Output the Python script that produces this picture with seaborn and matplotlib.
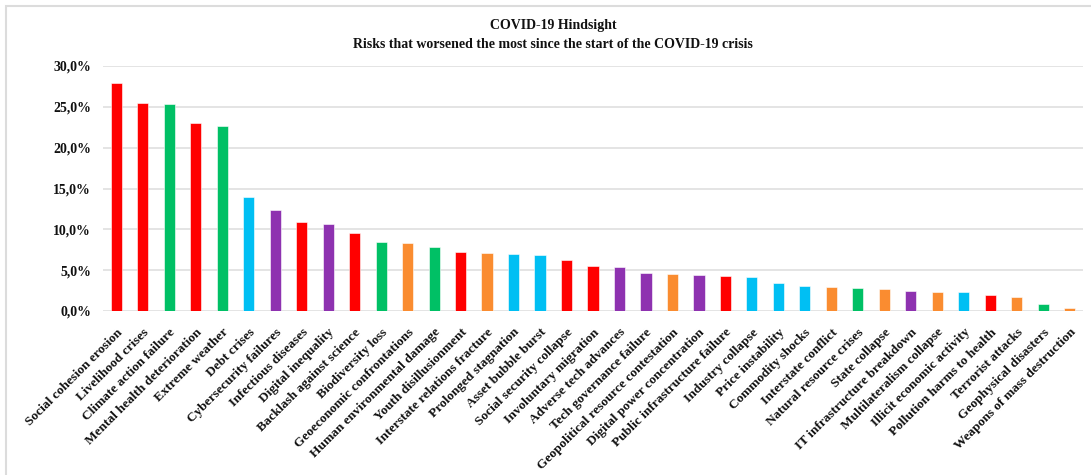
import matplotlib
matplotlib.use("Agg")
import matplotlib.pyplot as plt
from matplotlib.patches import Rectangle
from matplotlib.ticker import FuncFormatter, MultipleLocator
import seaborn as sns

risks = [
    "Social cohesion erosion", "Livelihood crises", "Climate action failure",
    "Mental health deterioration", "Extreme weather", "Debt crises",
    "Cybersecurity failures", "Infectious diseases", "Digital inequality",
    "Backlash against science", "Biodiversity loss", "Geoeconomic confrontations",
    "Human environmental damage", "Youth disillusionment",
    "Interstate relations fracture", "Prolonged stagnation", "Asset bubble burst",
    "Social security collapse", "Involuntary migration", "Adverse tech advances",
    "Tech governance failure", "Geopolitical resource contestation",
    "Digital power concentration", "Public infrastructure failure",
    "Industry collapse", "Price instability", "Commodity shocks",
    "Interstate conflict", "Natural resource crises", "State collapse",
    "IT infrastructure breakdown", "Multilateralism collapse",
    "Illicit economic activity", "Pollution harms to health",
    "Terrorist attacks", "Geophysical disasters", "Weapons of mass destruction",
]

share_pct = [
    27.9, 25.5, 25.4, 23.0, 22.7, 13.9, 12.4, 10.9, 10.6, 9.6, 8.4, 8.3,
    7.8, 7.2, 7.1, 7.0, 6.8, 6.3, 5.5, 5.4, 4.6, 4.5, 4.4, 4.3,
    4.2, 3.4, 3.1, 3.0, 2.8, 2.7, 2.5, 2.3, 2.3, 2.0, 1.7, 0.9, 0.4,
]

risk_group = [
    "Societal", "Societal", "Environmental", "Societal", "Environmental",
    "Economic", "Technological", "Societal", "Technological", "Societal",
    "Environmental", "Geopolitical", "Environmental", "Societal",
    "Geopolitical", "Economic", "Economic", "Societal", "Societal",
    "Technological", "Technological", "Geopolitical", "Technological",
    "Societal", "Economic", "Economic", "Economic", "Geopolitical",
    "Environmental", "Geopolitical", "Technological", "Geopolitical",
    "Economic", "Societal", "Geopolitical", "Environmental", "Geopolitical",
]

group_colors = {
    "Economic": "#00BFF3",
    "Environmental": "#00C065",
    "Geopolitical": "#FA8C30",
    "Societal": "#FF0000",
    "Technological": "#8E32B0",
}

sns.set_theme(style="white")
serif = ["Liberation Serif", "DejaVu Serif"]

fig = plt.figure(figsize=(10.91, 4.75), dpi=100)
fig.patch.set_facecolor("white")

# light chart-area frame
fig.patches.append(Rectangle((6 / 1091, -0.1), 1.2, (475 - 5.5) / 475 + 0.1,
                             transform=fig.transFigure, fill=False,
                             edgecolor="#DCDCDC", linewidth=1.5))

ax = fig.add_axes([103 / 1091, 164 / 475, 980 / 1091, 245 / 475])

bar_colors = [group_colors[g] for g in risk_group]
sns.barplot(x=risks, y=share_pct, hue=risks, palette=bar_colors,
            legend=False, width=0.42, ax=ax, saturation=1,
            edgecolor="white", linewidth=0.4)

ax.set_xlim(-0.5, len(risks) - 0.5)
ax.set_ylim(0, 30)
ax.yaxis.set_major_locator(MultipleLocator(5))
ax.yaxis.set_major_formatter(
    FuncFormatter(lambda v, _: f"{v:.1f}%".replace(".", ",")))
ax.grid(axis="y", color="#DDDDDD", linewidth=1.1)
ax.set_axisbelow(True)
for s in ax.spines.values():
    s.set_visible(False)
ax.tick_params(axis="both", length=0)
ax.tick_params(axis="y", pad=8.5)
ax.tick_params(axis="x", pad=11)
ax.set_xlabel("")
ax.set_ylabel("")

for lab in ax.get_yticklabels():
    lab.set_fontfamily(serif)
    lab.set_fontweight("bold")
    lab.set_fontsize(10)
    lab.set_color("#111111")

ax.set_xticks(range(len(risks)))
ax.set_xticklabels(risks, rotation=45, ha="right", rotation_mode="anchor",
                   fontfamily=serif, fontweight="bold", fontsize=9.6,
                   color="#111111")

fig.text(553 / 1091, 1 - 26 / 475, "COVID-19 Hindsight",
         ha="center", va="center", fontfamily=serif, fontweight="bold",
         fontsize=10, color="#111111")
fig.text(553 / 1091, 1 - 44 / 475,
         "Risks that worsened the most since the start of the COVID-19 crisis",
         ha="center", va="center", fontfamily=serif, fontweight="bold",
         fontsize=10, color="#111111")

fig.savefig("out.png", dpi=100, facecolor="white")
